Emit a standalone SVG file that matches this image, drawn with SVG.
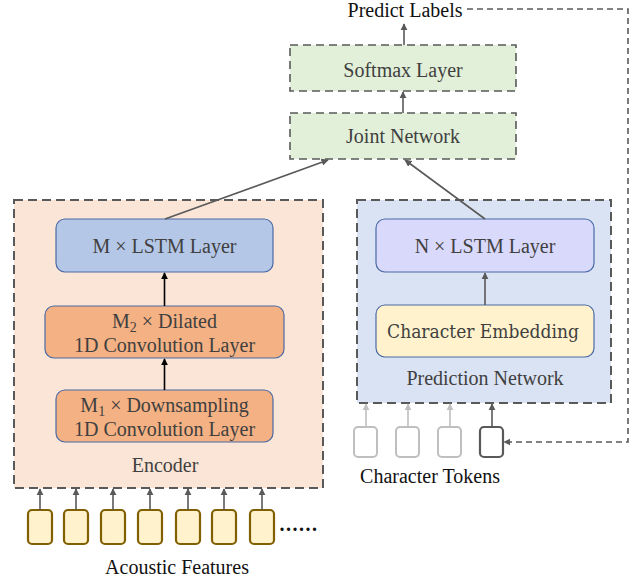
<svg xmlns="http://www.w3.org/2000/svg" width="639" height="579" viewBox="0 0 639 579">
<defs>
<style>
.t{font-family:"Liberation Serif","Times New Roman",serif;font-size:20px;fill:#404040;text-anchor:middle}
.tb{font-family:"Liberation Serif","Times New Roman",serif;font-size:20px;fill:#111;text-anchor:middle}
.emb{font-family:"DejaVu Serif",serif;font-stretch:condensed;font-size:19px;fill:#404040;text-anchor:middle}
.group{stroke:#595959;stroke-width:2;stroke-dasharray:9,5}
.green{fill:#e2f0d9;stroke:#595959;stroke-width:1.6;stroke-dasharray:8,5}
.blk{stroke:#4a6aa5;stroke-width:1.2}
.c{stroke:#595959;stroke-width:1.6;fill:none}
.ac{fill:#fff2cc;stroke:#806000;stroke-width:2.2}
</style>
<marker id="ah" viewBox="0 0 10 10" refX="9" refY="5" markerWidth="4.5" markerHeight="4.5" orient="auto"><path d="M0,0 L10,5 L0,10 z" fill="#595959"/></marker>
<marker id="ahk" viewBox="0 0 10 10" refX="9" refY="5" markerWidth="4.5" markerHeight="4.5" orient="auto"><path d="M0,0 L10,5 L0,10 z" fill="#000"/></marker>
<marker id="ahg" viewBox="0 0 10 10" refX="9" refY="5" markerWidth="4.5" markerHeight="4.5" orient="auto"><path d="M0,0 L10,5 L0,10 z" fill="#bfbfbf"/></marker>
</defs>

<g id="encoder">
<rect x="14" y="200" width="309" height="288" fill="#fbe5d6" class="group"/>
<text class="t" x="165" y="472">Encoder</text>
</g>
<g id="prediction-network">
<rect x="357" y="200" width="254" height="203" fill="#dae3f3" class="group"/>
<text class="t" x="485" y="385">Prediction Network</text>
</g>

<g id="m-lstm">
<rect x="56" y="219" width="217" height="53" rx="9" fill="#b4c7e7" class="blk"/>
<text class="t" x="164.5" y="253">M × LSTM Layer</text>
</g>
<g id="dilated-conv">
<rect x="45" y="306" width="239" height="52" rx="9" fill="#f4b183" class="blk"/>
<text class="t" x="164.5" y="328">M<tspan font-size="14" dy="4">2</tspan><tspan dy="-4"> × Dilated</tspan></text>
<text class="t" x="164.5" y="352">1D Convolution Layer</text>
</g>
<g id="downsampling-conv">
<rect x="56" y="390" width="217" height="52" rx="9" fill="#f4b183" class="blk"/>
<text class="t" x="164.5" y="412">M<tspan font-size="14" dy="4">1</tspan><tspan dy="-4"> × Downsampling</tspan></text>
<text class="t" x="164.5" y="436">1D Convolution Layer</text>
</g>
<g id="n-lstm">
<rect x="376" y="219" width="218" height="53" rx="9" fill="#d9d9fc" class="blk"/>
<text class="t" x="485" y="253">N × LSTM Layer</text>
</g>
<g id="char-embedding">
<rect x="376" y="305" width="218" height="52" rx="9" fill="#fff2cc" class="blk"/>
<text class="emb" x="483" y="338">Character Embedding</text>
</g>
<g id="joint-network">
<rect x="290" y="113" width="226" height="46" class="green"/>
<text class="t" x="403" y="143">Joint Network</text>
</g>
<g id="softmax-layer">
<rect x="290" y="45" width="226" height="46" class="green"/>
<text class="t" x="403" y="77">Softmax Layer</text>
</g>
<g id="predict-labels">
<text class="tb" x="405" y="17">Predict Labels</text>
</g>

<g id="character-tokens">
<rect x="354" y="427" width="23" height="30" rx="4" fill="#fff" stroke="#bfbfbf" stroke-width="2"/>
<rect x="396" y="427" width="23" height="30" rx="4" fill="#fff" stroke="#bfbfbf" stroke-width="2"/>
<rect x="438" y="427" width="23" height="30" rx="4" fill="#fff" stroke="#bfbfbf" stroke-width="2"/>
<rect x="480" y="427" width="23" height="30" rx="4" fill="#fff" stroke="#595959" stroke-width="2.2"/>
<text class="tb" x="430" y="483">Character Tokens</text>
</g>

<g id="acoustic-features">
<rect class="ac" x="28" y="510" width="24" height="34" rx="4"/>
<rect class="ac" x="64" y="510" width="24" height="34" rx="4"/>
<rect class="ac" x="101" y="510" width="24" height="34" rx="4"/>
<rect class="ac" x="138" y="510" width="24" height="34" rx="4"/>
<rect class="ac" x="176" y="510" width="24" height="34" rx="4"/>
<rect class="ac" x="212" y="510" width="24" height="34" rx="4"/>
<rect class="ac" x="250" y="510" width="24" height="34" rx="4"/>
<text class="tb" x="299" y="531" font-weight="bold" letter-spacing="1.5">......</text>
<text class="tb" x="177" y="574">Acoustic Features</text>
</g>

<g id="connectors">
<line class="c" x1="164.5" y1="390" x2="164.5" y2="359" style="stroke:#000" marker-end="url(#ahk)"/>
<line class="c" x1="164.5" y1="306" x2="164.5" y2="273" style="stroke:#000" marker-end="url(#ahk)"/>
<line class="c" x1="485" y1="305" x2="485" y2="273" marker-end="url(#ah)"/>
<line class="c" x1="165" y1="219" x2="328" y2="160" marker-end="url(#ah)"/>
<line class="c" x1="485" y1="219" x2="405" y2="160" marker-end="url(#ah)"/>
<line class="c" x1="403" y1="113" x2="403" y2="92" marker-end="url(#ah)"/>
<line class="c" x1="404" y1="45" x2="404" y2="24" marker-end="url(#ah)"/>
<line class="c" x1="366" y1="427" x2="366" y2="404" style="stroke:#bfbfbf" marker-end="url(#ahg)"/>
<line class="c" x1="408" y1="427" x2="408" y2="404" style="stroke:#bfbfbf" marker-end="url(#ahg)"/>
<line class="c" x1="450" y1="427" x2="450" y2="404" style="stroke:#bfbfbf" marker-end="url(#ahg)"/>
<line class="c" x1="492" y1="427" x2="492" y2="404" marker-end="url(#ah)"/>
<polyline class="c" points="467,9 628,9 628,442 504,442" stroke-dasharray="6,4" marker-end="url(#ah)"/>
<line class="c" x1="40" y1="510" x2="40" y2="489" marker-end="url(#ah)"/>
<line class="c" x1="76" y1="510" x2="76" y2="489" marker-end="url(#ah)"/>
<line class="c" x1="113" y1="510" x2="113" y2="489" marker-end="url(#ah)"/>
<line class="c" x1="150" y1="510" x2="150" y2="489" marker-end="url(#ah)"/>
<line class="c" x1="188" y1="510" x2="188" y2="489" marker-end="url(#ah)"/>
<line class="c" x1="224" y1="510" x2="224" y2="489" marker-end="url(#ah)"/>
<line class="c" x1="262" y1="510" x2="262" y2="489" marker-end="url(#ah)"/>
</g>
</svg>
